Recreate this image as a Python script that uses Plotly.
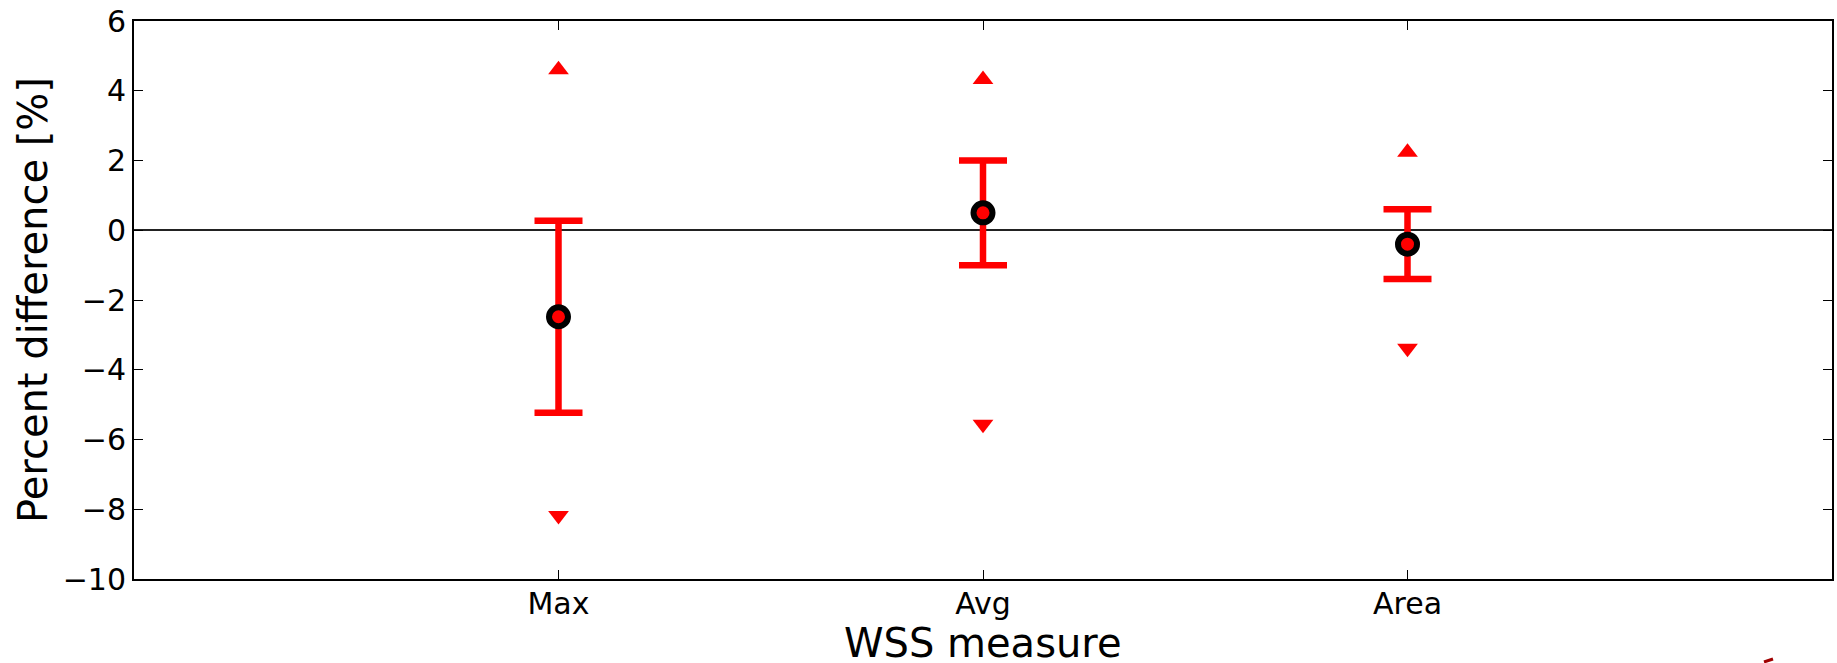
import plotly.graph_objects as go

# Data
categories = ["Max", "Avg", "Area"]
x_pos = [1, 2, 3]
mean_vals = [-2.48, 0.50, -0.40]
err_vals = [2.75, 1.50, 1.00]
max_vals = [4.60, 4.32, 2.24]
min_vals = [-8.18, -5.56, -3.38]

y_ticks = [-10, -8, -6, -4, -2, 0, 2, 4, 6]

RED = "#ff0000"
FONT = "DejaVu Sans"

fig = go.Figure()

# max triangles
fig.add_trace(go.Scatter(
    x=x_pos, y=max_vals, mode="markers",
    marker=dict(symbol="triangle-up", size=18, color=RED, line=dict(width=0)),
    showlegend=False, hoverinfo="skip"))
# min triangles
fig.add_trace(go.Scatter(
    x=x_pos, y=min_vals, mode="markers",
    marker=dict(symbol="triangle-down", size=18, color=RED, line=dict(width=0)),
    showlegend=False, hoverinfo="skip"))
# mean with error bars
fig.add_trace(go.Scatter(
    x=x_pos, y=mean_vals, mode="markers",
    error_y=dict(type="data", array=err_vals, visible=True,
                 color=RED, thickness=6.5, width=24),
    marker=dict(symbol="circle", size=19, color=RED,
                line=dict(color="black", width=6)),
    showlegend=False))

# small cropped artifact in the bottom-right corner
fig.add_shape(type="line", xref="paper", yref="paper",
              x0=(1764 - 134) / 1698, x1=(1773 - 134) / 1698,
              y0=-(662 - 579) / 558, y1=-(659 - 579) / 558,
              line=dict(color="#a00000", width=3))

# x-axis title as an annotation so it can sit near the bottom edge
fig.add_annotation(text="WSS measure", xref="paper", yref="paper",
                   x=0.5, y=-84 / 558, xanchor="center", yanchor="bottom",
                   yshift=-5, showarrow=False,
                   font=dict(family=FONT, size=40, color="black"))

axis_common = dict(
    showline=True, linecolor="black", linewidth=2, mirror="ticks",
    ticks="inside", ticklen=9, tickwidth=1, tickcolor="black",
    showgrid=False, automargin=False,
    tickfont=dict(family=FONT, size=30, color="black"),
)

fig.update_layout(
    width=1837, height=663,
    margin=dict(l=134, r=5, t=21, b=84),
    paper_bgcolor="white", plot_bgcolor="white",
    font=dict(family=FONT, color="black"),
    xaxis=dict(
        range=[0, 4], tickvals=x_pos, ticktext=categories,
        zeroline=False, ticklabelstandoff=-3,
        **axis_common),
    yaxis=dict(
        range=[-10, 6], tickvals=y_ticks, tickformat="d",
        zeroline=True, zerolinecolor="#222222", zerolinewidth=2,
        title=dict(text="Percent difference [%]", font=dict(family=FONT, size=40, color="black"),
                   standoff=3),
        **axis_common),
)

fig.write_html("out.html")
